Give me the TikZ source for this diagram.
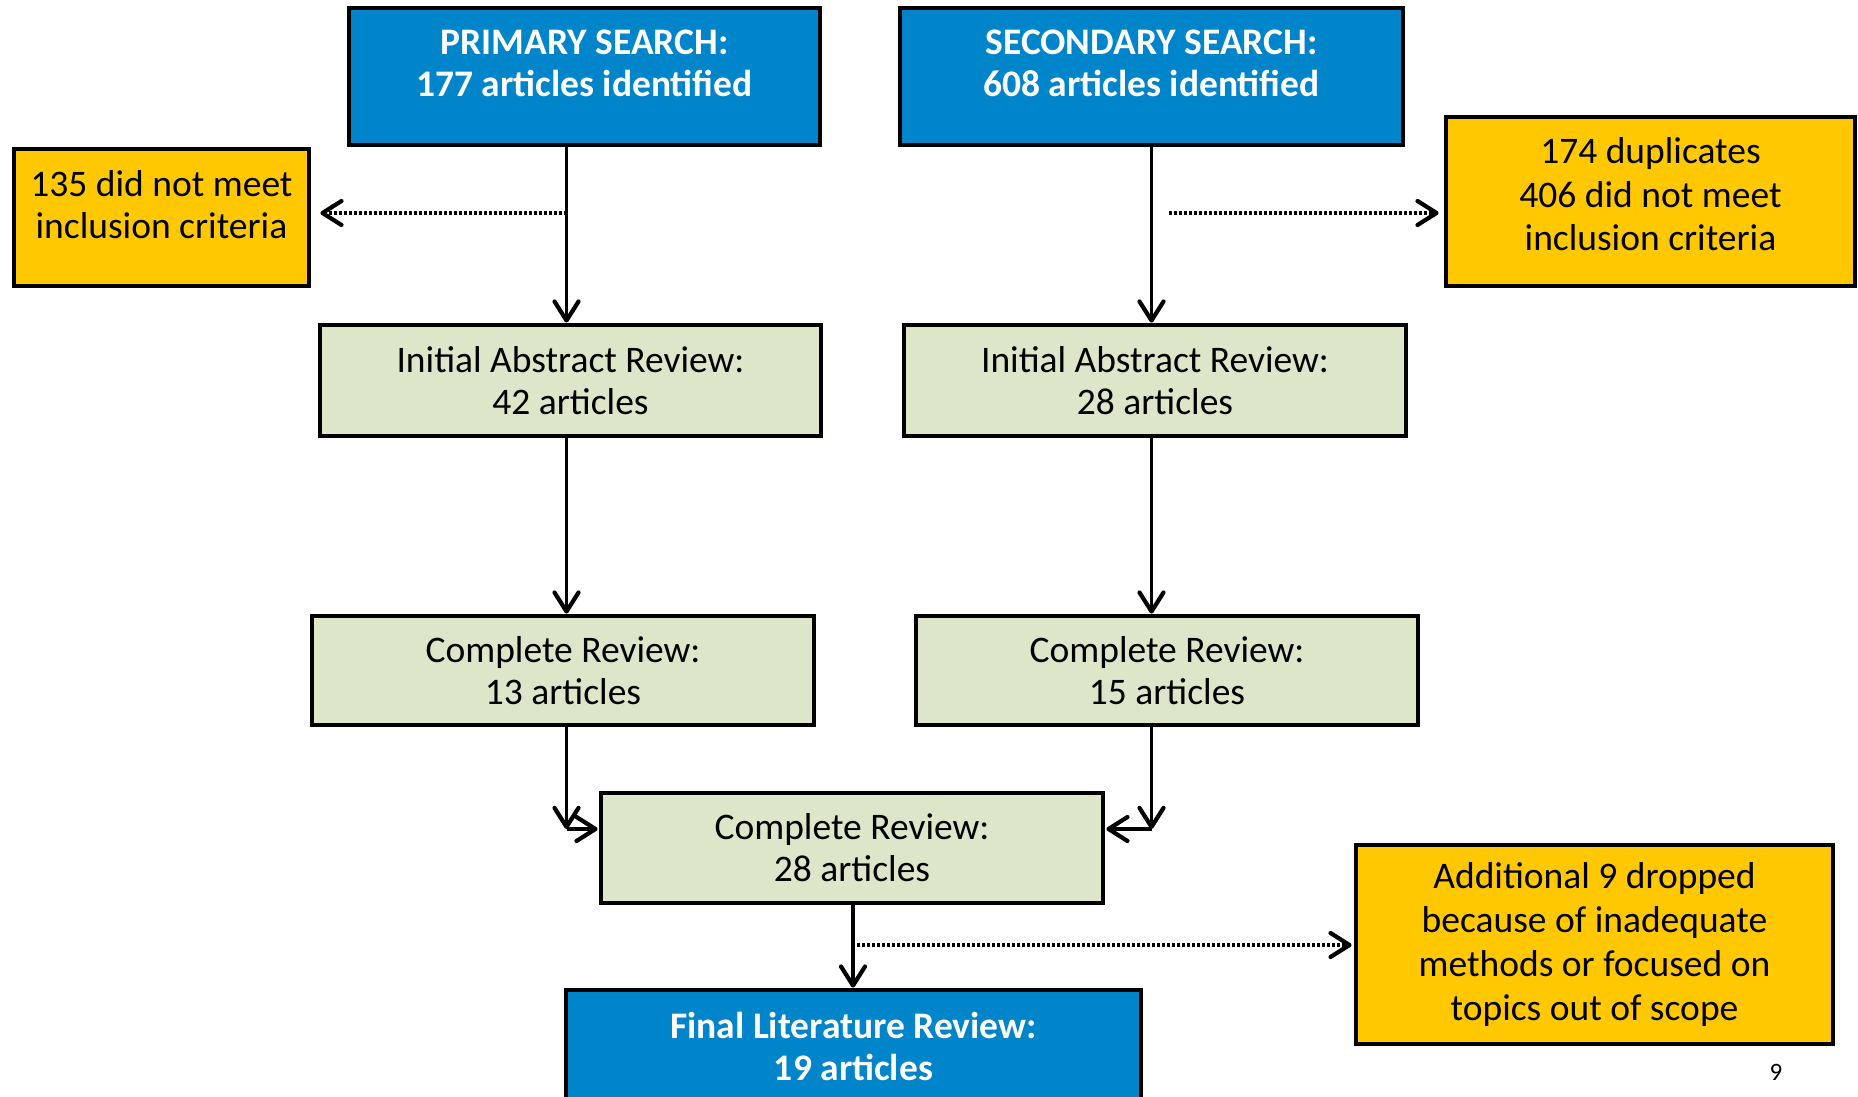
\documentclass[tikz,border=0pt]{standalone}
\usepackage{fontspec}
\setmainfont{Carlito}
\usetikzlibrary{arrows.meta,calc}
\definecolor{boxblue}{RGB}{0,132,202}
\definecolor{boxgreen}{RGB}{221,230,200}
\definecolor{boxyellow}{RGB}{255,200,0}
\tikzset{
  boxbase/.style={draw=black, line width=4.8pt, inner sep=0pt, align=center,
    font=\fontsize{37.5}{42}\selectfont},
  bluebox/.style={boxbase, fill=boxblue, text=white, font=\fontsize{37.5}{42}\selectfont\bfseries},
  greenbox/.style={boxbase, fill=boxgreen},
  yellowbox/.style={boxbase, fill=boxyellow},
  intext/.style={inner sep=0pt, align=center, font=\fontsize{37.5}{42}\selectfont},
  conn/.style={line width=3.6pt, -{Straight Barb[length=19pt,width=24pt,line width=4.2pt,round]}},
  dotconn/.style={conn, dash pattern=on 3pt off 2pt},
}
\begin{document}
\begin{tikzpicture}[x=1pt,y=-1pt]
\useasboundingbox (0,0) rectangle (1858,1097);
% boxes
\node[bluebox, minimum width=471pt, minimum height=137pt] (prim) at (584.5,76.5) {};
\node[intext, text=white, font=\fontsize{37.5}{42}\selectfont\bfseries] (primt) at (584.5,63.5) {PRIMARY SEARCH:\\177 articles identified};
\node[bluebox, minimum width=503pt, minimum height=137pt] (sec) at (1151.5,76.5) {};
\node[intext, text=white, font=\fontsize{37.5}{42}\selectfont\bfseries] (sect) at (1151.5,63.5) {SECONDARY SEARCH:\\608 articles identified};
\node[yellowbox, minimum width=295pt, minimum height=137pt] (yl) at (161.5,217.5) {};
\node[intext] (ylt) at (161.5,204.5) {135 did not meet\\inclusion criteria};
\node[yellowbox, minimum width=409pt, minimum height=169pt] (yr) at (1650.5,201.5) {};
\node[intext, font=\fontsize{37.5}{43.5}\selectfont] (yrt) at (1650.5,194.5) {174 duplicates\\406 did not meet\\inclusion criteria};
\node[greenbox, minimum width=501pt, minimum height=111pt] (ial) at (570.5,380.5) {Initial Abstract Review:\\42 articles};
\node[greenbox, minimum width=502pt, minimum height=111pt] (iar) at (1155,380.5) {Initial Abstract Review:\\28 articles};
\node[greenbox, minimum width=502pt, minimum height=109pt] (c13) at (563,670.5) {Complete Review:\\13 articles};
\node[greenbox, minimum width=502pt, minimum height=109pt] (c15) at (1167,670.5) {Complete Review:\\15 articles};
\node[greenbox, minimum width=502pt, minimum height=110pt] (c28) at (852,848) {Complete Review:\\28 articles};
\node[bluebox, minimum width=575pt, minimum height=112pt] (fin) at (853.5,1046) {Final Literature Review:\\19 articles};
\node[yellowbox, minimum width=477pt, minimum height=199pt, font=\fontsize{37.5}{44}\selectfont] (yb) at (1594.5,944.5) {Additional 9 dropped\\because of inadequate\\methods or focused on\\topics out of scope};
\node[inner sep=0pt, font=\fontsize{25}{28}\selectfont] (pg) at (1776,1072) {9};
% connector helpers
\coordinate (l1) at (566.5,0);
\coordinate (r1) at (1151.5,0);
\coordinate (d1) at (566.5,213);
\coordinate (d2) at (1169,213);
\coordinate (jl) at (566.5,829);
\coordinate (jr) at (1151.5,829);
\coordinate (m1) at (853,0);
\coordinate (d3) at (857,945);
% connectors
\draw[conn] (prim.south -| l1) -- (ial.north -| l1);
\draw[conn] (sec.south -| r1) -- (iar.north -| r1);
\draw[dotconn] (d1) -- ([xshift=9pt]yl.east |- d1);
\draw[dotconn] (d2) -- ([xshift=-5pt]yr.west |- d2);
\draw[conn] (ial.south -| l1) -- (c13.north -| l1);
\draw[conn] (iar.south -| r1) -- (c15.north -| r1);
\draw[conn] (c13.south -| l1) -- (jl);
\draw[conn] (jl) -- ([xshift=-1pt]c28.west |- jl);
\draw[conn] (c15.south -| r1) -- (jr);
\draw[conn] (jr) -- ([xshift=1pt]c28.east |- jr);
\draw[conn] (c28.south -| m1) -- (fin.north -| m1);
\draw[dotconn] (d3) -- ([xshift=-2pt]yb.west |- d3);
\end{tikzpicture}
\end{document}
